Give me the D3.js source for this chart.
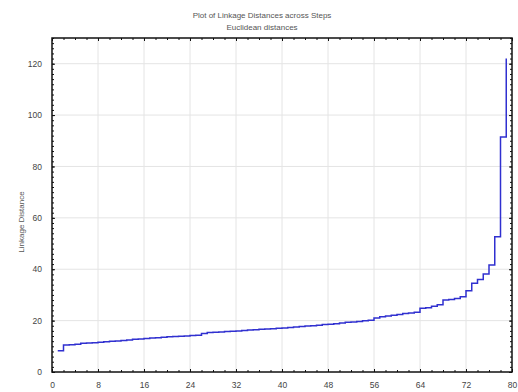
<!DOCTYPE html>
<html>
<head>
<meta charset="utf-8">
<script src="https://cdn.jsdelivr.net/npm/d3@7"></script>
<style>
  body { margin: 0; background: #fff; }
  text { font-family: "Liberation Sans", Arial, sans-serif; }
</style>
</head>
<body>
<svg id="chart"></svg>
<script>
// Linkage distance at each amalgamation step
var steps = d3.range(1, 80);
var distances = [
  8.3, 10.5, 10.6, 10.8, 11.2, 11.3, 11.4, 11.6, 11.8, 12.0,
  12.1, 12.3, 12.5, 12.7, 12.8, 13.0, 13.2, 13.3, 13.5, 13.7,
  13.8, 13.9, 14.0, 14.2, 14.3, 15.0, 15.4, 15.5, 15.6, 15.8,
  15.9, 16.0, 16.2, 16.3, 16.4, 16.6, 16.7, 16.8, 17.0, 17.1,
  17.3, 17.5, 17.7, 17.9, 18.0, 18.2, 18.5, 18.6, 18.8, 19.1,
  19.4, 19.5, 19.7, 19.9, 20.1, 21.0, 21.5, 21.8, 22.1, 22.4,
  22.8, 23.0, 23.3, 24.8, 25.0, 25.6, 26.2, 28.0, 28.2, 28.6,
  29.3, 31.6, 34.5, 36.0, 38.1, 41.6, 52.6, 91.5, 122.0
];
var xTicks = [0, 8, 16, 24, 32, 40, 48, 56, 64, 72, 80];
var yTicks = [0, 20, 40, 60, 80, 100, 120];

var width = 518, height = 392;
var margin = {top: 38, right: 6, bottom: 20, left: 52};

var svg = d3.select("#chart")
            .attr("width", width)
            .attr("height", height);

var x = d3.scaleLinear()
          .domain([0, 80])
          .range([margin.left, width - margin.right]);

var y = d3.scaleLinear()
          .domain([0, 130])
          .range([height - margin.bottom, margin.top]);

// titles
svg.append("text")
   .attr("x", 262).attr("y", 17.5)
   .attr("text-anchor", "middle")
   .attr("font-size", "8px").attr("fill", "#555")
   .text("Plot of Linkage Distances across Steps");
svg.append("text")
   .attr("x", 262).attr("y", 29.5)
   .attr("text-anchor", "middle")
   .attr("font-size", "8px").attr("fill", "#555")
   .text("Euclidean distances");

// grid
svg.append("g")
   .selectAll("line.vg")
   .data(xTicks.slice(1, -1))
   .enter().append("line")
   .attr("x1", d => x(d)).attr("x2", d => x(d))
   .attr("y1", y(0)).attr("y2", y(130))
   .attr("stroke", "#e4e4e4").attr("stroke-width", 1);
svg.append("g")
   .selectAll("line.hg")
   .data(yTicks.slice(1))
   .enter().append("line")
   .attr("x1", x(0)).attr("x2", x(80))
   .attr("y1", d => y(d)).attr("y2", d => y(d))
   .attr("stroke", "#e4e4e4").attr("stroke-width", 1);

// axes with inward ticks on all four sides
function styleAxis(g) {
  g.select(".domain").remove();
  g.selectAll(".tick line").attr("stroke", "#111").attr("stroke-width", 1);
  g.selectAll("text").attr("font-size", "8.5px").attr("fill", "#444")
   .style("font-family", "'Liberation Sans', Arial, sans-serif");
}
var xMinor = d3.range(0, 81, 2);
var yMinor = d3.range(0, 131, 2);

svg.append("g").attr("transform", `translate(0,${y(0)})`)
   .call(d3.axisBottom(x).tickValues(xMinor).tickSize(-2).tickFormat(""))
   .call(styleAxis);
svg.append("g").attr("transform", `translate(0,${y(0)})`)
   .call(d3.axisBottom(x).tickValues(xTicks).tickSize(-3).tickPadding(10).tickFormat(d3.format("d")))
   .call(styleAxis);
svg.append("g").attr("transform", `translate(0,${y(130)})`)
   .call(d3.axisTop(x).tickValues(xMinor).tickSize(-2).tickFormat(""))
   .call(styleAxis);
svg.append("g").attr("transform", `translate(0,${y(130)})`)
   .call(d3.axisTop(x).tickValues(xTicks).tickSize(-3).tickFormat(""))
   .call(styleAxis);

svg.append("g").attr("transform", `translate(${x(0)},0)`)
   .call(d3.axisLeft(y).tickValues(yMinor).tickSize(-2).tickFormat(""))
   .call(styleAxis);
svg.append("g").attr("transform", `translate(${x(0)},0)`)
   .call(d3.axisLeft(y).tickValues(yTicks).tickSize(-3).tickPadding(10).tickFormat(d3.format("d")))
   .call(styleAxis);
svg.append("g").attr("transform", `translate(${x(80)},0)`)
   .call(d3.axisRight(y).tickValues(yMinor).tickSize(-2).tickFormat(""))
   .call(styleAxis);
svg.append("g").attr("transform", `translate(${x(80)},0)`)
   .call(d3.axisRight(y).tickValues(yTicks).tickSize(-3).tickFormat(""))
   .call(styleAxis);

// frame
svg.append("rect")
   .attr("x", x(0)).attr("y", y(130))
   .attr("width", x(80) - x(0)).attr("height", y(0) - y(130))
   .attr("fill", "none").attr("stroke", "#111").attr("stroke-width", 1.5);

// axis title
svg.append("text")
   .attr("transform", `translate(24,222) rotate(-90)`)
   .attr("text-anchor", "middle")
   .attr("font-size", "8px").attr("fill", "#555")
   .text("Linkage Distance");

// step line
var line = d3.line()
             .x((d, i) => x(steps[i]))
             .y(d => y(d))
             .curve(d3.curveStepAfter);

svg.append("path")
   .datum(distances)
   .attr("d", line)
   .attr("fill", "none")
   .attr("stroke", "#3030d0")
   .attr("stroke-width", 1.5);
</script>
</body>
</html>
